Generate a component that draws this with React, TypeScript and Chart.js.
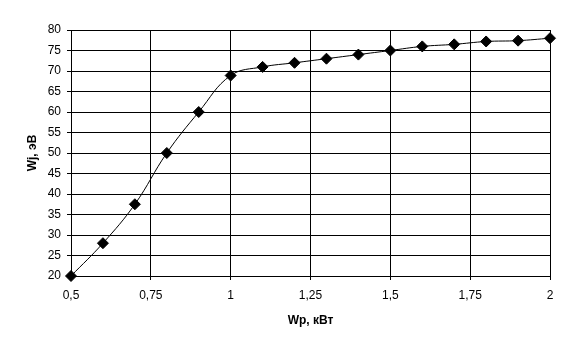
import React, { useEffect, useRef } from "react";
import { Chart, registerables } from "chart.js";

Chart.register(...registerables);

const xValues = [0.5, 0.6, 0.7, 0.8, 0.9, 1.0, 1.1, 1.2, 1.3, 1.4, 1.5, 1.6, 1.7, 1.8, 1.9, 2.0];
const yValues = [20, 28, 37.5, 50, 60, 68.9, 71, 72, 73, 74, 75, 76, 76.5, 77.2, 77.4, 78];
const xTitle = "Wp, кВт";
const yTitle = "Wj, эВ";
const xMin = 0.5, xMax = 2, xStep = 0.25;
const yMin = 20, yMax = 80, yStep = 5;

const FONT = "'Liberation Sans', Arial, sans-serif";

export default function App() {
  const ref = useRef<HTMLCanvasElement | null>(null);
  useEffect(() => {
    const canvas = ref.current;
    if (!canvas) return;
    const chart = new Chart(canvas, {
      type: "line",
      data: {
        datasets: [
          {
            data: xValues.map((x, i) => ({ x, y: yValues[i] })),
            borderColor: "#000",
            borderWidth: 1,
            backgroundColor: "#000",
            pointStyle: "rectRot",
            pointRadius: 5.5,
            pointBorderWidth: 1,
            pointBorderColor: "#000",
            pointBackgroundColor: "#000",
            tension: 0.4,
            clip: false as any,
          },
        ],
      },
      options: {
        responsive: false,
        animation: false,
        devicePixelRatio: 1,
        layout: { padding: { top: 30, right: 32, left: 0, bottom: 0 } },
        plugins: { legend: { display: false }, tooltip: { enabled: false } },
        scales: {
          x: {
            type: "linear",
            min: xMin,
            max: xMax,
            ticks: {
              stepSize: xStep,
              color: "#000",
              padding: 8,
              font: { family: FONT, size: 12 },
              maxRotation: 0,
              callback: (v: any) => String(Number(v)).replace(".", ","),
            },
            grid: { color: "#000", lineWidth: 1, tickLength: 4 },
            border: { color: "#000", width: 1 },
            title: {
              display: true,
              text: xTitle,
              color: "#000",
              font: { family: FONT, size: 12, weight: "bold" },
              padding: { top: 0, bottom: 25 },
            },
            afterFit: (s: any) => { s.height = 77; },
          },
          y: {
            type: "linear",
            min: yMin,
            max: yMax,
            ticks: {
              stepSize: yStep,
              color: "#000",
              padding: 6,
              font: { family: FONT, size: 12 },
            },
            grid: { color: "#000", lineWidth: 1, tickLength: 4 },
            border: { color: "#000", width: 1 },
            title: {
              display: true,
              text: yTitle,
              color: "#000",
              font: { family: FONT, size: 12, weight: "bold" },
              padding: { top: 25, bottom: 0 },
            },
            afterFit: (s: any) => { s.width = 71; },
          },
        },
      },
    });
    return () => chart.destroy();
  }, []);
  return (
    <div style={{ position: "fixed", left: 0, top: 0, width: 582, height: 353, background: "#fff" }}>
      <canvas ref={ref} width={582} height={353} style={{ display: "block", width: 582, height: 353 }} />
    </div>
  );
}
